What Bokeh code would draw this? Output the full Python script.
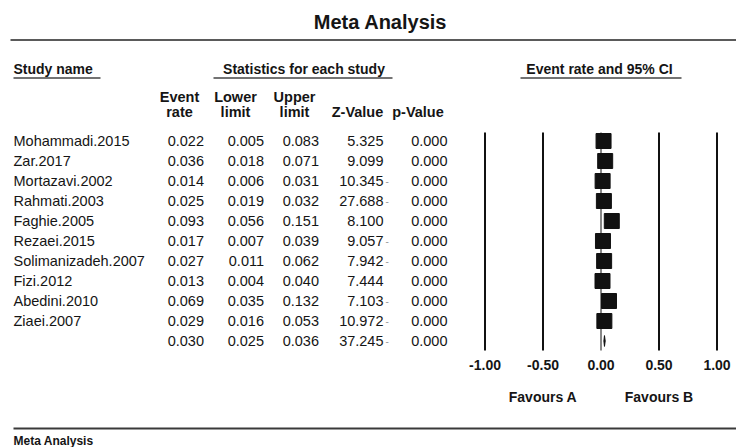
from bokeh.plotting import figure
from bokeh.models import Range1d, ColumnDataSource
from bokeh.core.properties import value
from bokeh.embed import file_html
from bokeh.resources import INLINE

# ---------------- data ----------------
studies = ["Mohammadi.2015", "Zar.2017", "Mortazavi.2002", "Rahmati.2003", "Faghie.2005",
           "Rezaei.2015", "Solimanizadeh.2007", "Fizi.2012", "Abedini.2010", "Ziaei.2007"]
event_rate = [0.022, 0.036, 0.014, 0.025, 0.093, 0.017, 0.027, 0.013, 0.069, 0.029]
lower_limit = [0.005, 0.018, 0.006, 0.019, 0.056, 0.007, 0.011, 0.004, 0.035, 0.016]
upper_limit = [0.083, 0.071, 0.031, 0.032, 0.151, 0.039, 0.062, 0.040, 0.132, 0.053]
z_value = [5.325, 9.099, 10.345, 27.688, 8.100, 9.057, 7.942, 7.444, 7.103, 10.972]
p_value = [0.000, 0.000, 0.000, 0.000, 0.000, 0.000, 0.000, 0.000, 0.000, 0.000]
z_mark = ["", "", "-", "-", "", "-", "-", "", "-", "-"]

summary_rate = 0.030
summary_lower = 0.025
summary_upper = 0.036
summary_z = 37.245
summary_p = 0.000
summary_mark = "-"

ticks = [-1.0, -0.5, 0.0, 0.5, 1.0]
tick_labels = ["-1.00", "-0.50", "0.00", "0.50", "1.00"]
favour_labels = ["Favours A", "Favours B"]
favour_pos = [-0.5, 0.5]

title_text = "Meta Analysis"
footer_text = "Meta Analysis"

# ---------------- figure ----------------
W, H = 736, 447
ZERO_PX, UNIT_PX = 600.5, 116.0
X0 = -ZERO_PX / UNIT_PX
X1 = (W - ZERO_PX) / UNIT_PX
ROW0, ROW_H = 140.5, 20.0
Y_TOP = -ROW0 / ROW_H
Y_BOT = (H - ROW0) / ROW_H

FONT = value("Liberation Sans")
TXT = "#151515"

p = figure(width=W, height=H, x_range=Range1d(X0, X1), y_range=Range1d(Y_BOT, Y_TOP),
           x_axis_location=None, y_axis_location=None, output_backend="svg",
           toolbar_location=None, min_border=0, outline_line_color=None,
           background_fill_color="white", border_fill_color="white")
p.grid.grid_line_color = None
p.extra_x_ranges = {"px": Range1d(0, W)}


def txt(x, y, s, size, bold=False, align="left", color=TXT, rng="px", baseline="middle"):
    src = ColumnDataSource(dict(x=list(x), y=list(y), t=list(s)))
    p.text(x="x", y="y", text="t", source=src, x_range_name=rng, text_font=FONT,
           text_font_size=size, text_font_style="bold" if bold else "normal",
           text_align=align, text_baseline=baseline, text_color=color)


def hline(x0, x1, y, color="#444", width=1.5):
    p.segment(x0=[x0], x1=[x1], y0=[y], y1=[y], x_range_name="px",
              line_color=color, line_width=width)


n = len(studies)
rows = list(range(n))
all_rows = rows + [n]

# title and frame lines
txt([380], [-5.95], [title_text], "20px", bold=True, align="center")
hline(10, W, -5.05, color="#5a5a5a", width=2)
hline(13, W, 14.375, color="#3a3a3a", width=2)
txt([13], [14.975], [footer_text], "12px", bold=True, baseline="alphabetic")

# group headers
txt([13], [-3.625], ["Study name"], "14px", bold=True)
hline(13, 100, -3.15)
txt([303.5], [-3.625], ["Statistics for each study"], "14px", bold=True, align="center")
hline(213, 392, -3.15)
txt([599], [-3.625], ["Event rate and 95% CI"], "14px", bold=True, align="center")
hline(520, 681, -3.15)

# column headers
col_centers = [179, 235, 294, 357, 417.5]
head_top = ["Event", "Lower", "Upper", "", ""]
head_bot = ["rate", "limit", "limit", "Z-Value", "p-Value"]
txt(col_centers, [-2.19] * 5, head_top, "14.5px", bold=True, align="center")
txt(col_centers, [-1.44] * 5, head_bot, "14.5px", bold=True, align="center")

# table body
fmt = lambda v: f"{v:.3f}"
txt([13] * n, rows, studies, "14.5px")
txt([203.5] * (n + 1), all_rows, [fmt(v) for v in event_rate + [summary_rate]], "14.5px", align="right")
txt([263.5] * (n + 1), all_rows, [fmt(v) for v in lower_limit + [summary_lower]], "14.5px", align="right")
txt([318.5] * (n + 1), all_rows, [fmt(v) for v in upper_limit + [summary_upper]], "14.5px", align="right")
txt([383] * (n + 1), all_rows, [fmt(v) for v in z_value + [summary_z]], "14.5px", align="right")
txt([385] * (n + 1), all_rows, z_mark + [summary_mark], "10px", color="#9a9a9a")
txt([447] * (n + 1), all_rows, [fmt(v) for v in p_value + [summary_p]], "14.5px", align="right")

# forest plot reference lines
p.segment(x0=ticks, x1=ticks, y0=[-0.425] * len(ticks), y1=[10.475] * len(ticks),
          line_color="#111", line_width=[1 if t == 0 else 2 for t in ticks])

# confidence intervals and point estimates
p.segment(x0=lower_limit, x1=upper_limit, y0=rows, y1=rows, line_color="#111", line_width=1)
p.scatter(x=event_rate, y=rows, marker="square", size=15, fill_color="#111",
          line_color="#111", line_width=1)

# summary diamond
p.patch(x=[summary_lower, summary_rate, summary_upper, summary_rate],
        y=[n, n - 0.27, n, n + 0.27], fill_color="#111", line_color="#111", line_width=1)

# axis labels
txt(ticks, [11.175] * len(ticks), tick_labels, "14px", bold=True, align="center", rng="default")
txt(favour_pos, [12.775] * 2, favour_labels, "14px", bold=True, align="center", rng="default")

open("out.html", "w").write(file_html(p, INLINE))
